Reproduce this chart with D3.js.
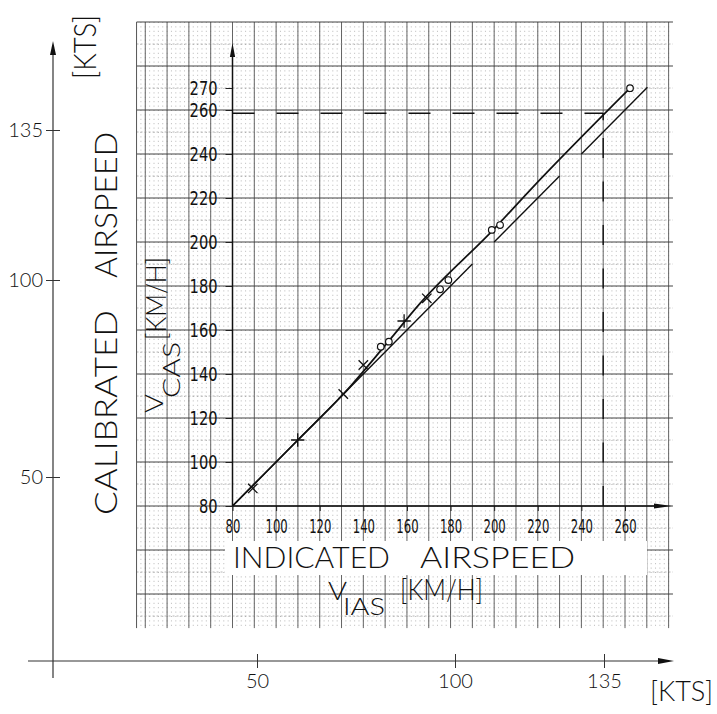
<!DOCTYPE html>
<html>
<head>
<meta charset="utf-8">
<script src="https://cdnjs.cloudflare.com/ajax/libs/d3/7.8.5/d3.min.js"></script>
<style>
  html, body { margin: 0; padding: 0; background: #fff; }
  svg { display: block; }
  .lbl { font-family: Lato, "Liberation Sans", sans-serif; font-weight: 300; fill: #111; }
  .num { font-family: "Liberation Sans Narrow", "DejaVu Sans Condensed", "Liberation Sans", sans-serif; fill: #111; }
</style>
</head>
<body>
<div id="chart"></div>
<script>
'use strict';

// Measured points, km/h (IAS, CAS). Crosses and circles are two test runs.
var crossIas  = [89.3, 109.9, 130.8, 140.0, 158.7, 169.1];
var crossCas  = [88.0, 110.0, 130.9, 144.1, 164.1, 174.4];
var crossKind = ['x', '+', 'x', 'x', '+', 'x'];
var circleIas = [148.0, 151.7, 175.2, 179.0, 198.9, 202.7, 262.3];
var circleCas = [152.4, 154.7, 178.5, 182.7, 205.5, 207.7, 269.9];

// Faired calibration curve through the readings.
var curveIas = [80, 110, 131, 150, 166, 200, 216.5, 262.3];
var curveCas = [80, 110, 131, 153, 172.1, 206, 223.6, 269.9];

// IAS = CAS reference line, drawn in broken pieces.
var refFrom = [80, 200, 240];
var refTo   = [190, 230, 270.3];

// Limit speed marking (IAS on the x axis, CAS on the y axis).
var limitIas = 250;
var limitCas = 258.5;

// Tick labels.
var kmhTicksX = [80, 100, 120, 140, 160, 180, 200, 220, 240, 260];
var kmhTicksY = [80, 100, 120, 140, 160, 180, 200, 220, 240, 260, 270];
var ktsTicks  = [50, 100, 135];

(function() {

  var width = 717, height = 714;

  var svg = d3.select('#chart').append('svg')
      .attr('width', width)
      .attr('height', height);

  // Inner (km/h) scales, same as the graph paper.
  var x = d3.scaleLinear().domain([80, 260]).range([232.5, 625]);
  var y = d3.scaleLinear().domain([80, 260]).range([506, 110]);

  // Outer knot scales were lettered by hand, so they are piecewise.
  var kx = d3.scaleLinear().domain(ktsTicks).range([257, 455, 604]);
  var ky = d3.scaleLinear().domain(ktsTicks).range([477, 280, 130]);

  // Extent of the graph paper, in km/h.
  var paper = {x0: 36, x1: 282, y0: 24.5, y1: 300};

  /**
   * Graph paper: dot rulings, 10 km/h lines, heavier 20 km/h rows.
   */
  function drawPaper() {
    var g = svg.append('g').attr('class', 'paper');
    var top = y(paper.y1), bottom = y(paper.y0);
    var left = x(paper.x0), right = x(paper.x1);

    // Dotted rulings give a dot matrix of about 2 km/h pitch.
    g.selectAll('.fine-v').data(d3.range(38, paper.x1, 2)).enter()
      .append('line')
        .attr('x1', x).attr('x2', x)
        .attr('y1', top).attr('y2', bottom)
        .attr('stroke', '#b0b0b0').attr('stroke-width', 0.9)
        .attr('stroke-dasharray', '1,3.4');

    g.selectAll('.mid-v').data(d3.range(40, paper.x1, 10)).enter()
      .append('line')
        .attr('x1', x).attr('x2', x)
        .attr('y1', top).attr('y2', bottom)
        .attr('stroke', '#555').attr('stroke-width', 0.9);

    g.selectAll('.mid-h').data(d3.range(30, paper.y1, 20)).enter()
      .append('line')
        .attr('y1', y).attr('y2', y)
        .attr('x1', left).attr('x2', right)
        .attr('stroke', '#999').attr('stroke-width', 0.7)
        .attr('stroke-dasharray', '2,2');

    g.selectAll('.major-h').data(d3.range(40, paper.y1 + 1, 20)).enter()
      .append('line')
        .attr('y1', y).attr('y2', y)
        .attr('x1', left).attr('x2', right)
        .attr('stroke', '#444').attr('stroke-width', 1.1);

    // Left edge of the sheet.
    g.append('line')
      .attr('x1', left).attr('x2', left)
      .attr('y1', top).attr('y2', bottom)
      .attr('stroke', '#555').attr('stroke-width', 1);

    // Pasted-on strip behind the x axis title.
    g.append('rect')
      .attr('x', 225).attr('y', 541)
      .attr('width', 422).attr('height', 34)
      .attr('fill', '#fff');
  }

  function arrow(tipX, tipY, dx, dy, len, half) {
    // Narrow filled arrow head pointing along (dx, dy).
    var bx = tipX - dx * len, by = tipY - dy * len;
    var px = -dy * half, py = dx * half;
    svg.append('path')
      .attr('d', 'M' + tipX + ',' + tipY +
                 'L' + (bx + px) + ',' + (by + py) +
                 'L' + (bx - px) + ',' + (by - py) + 'Z')
      .attr('fill', '#111');
  }

  function drawInnerAxes() {
    var xAxis = d3.axisBottom(x).tickValues(kmhTicksX).tickSize(5).tickPadding(8);
    var yAxis = d3.axisLeft(y).tickValues(kmhTicksY).tickSize(7).tickPadding(8);

    var gx = svg.append('g').attr('transform', 'translate(0,' + y(80) + ')').call(xAxis);
    var gy = svg.append('g').attr('transform', 'translate(' + x(80) + ',0)').call(yAxis);

    [gx, gy].forEach(function(g) {
      g.select('.domain').remove();
      g.selectAll('.tick line').attr('stroke', '#222').attr('stroke-width', 1);
      g.selectAll('.tick text')
        .attr('class', 'num')
        .attr('font-family', null)
        .style('font-size', '20px');
    });
    gx.selectAll('.tick text')
      .attr('textLength', function(d) { return String(d).length * 7.4; })
      .attr('lengthAdjust', 'spacingAndGlyphs');
    gy.selectAll('.tick text')
      .attr('textLength', function(d) { return String(d).length * 9.3; })
      .attr('lengthAdjust', 'spacingAndGlyphs');

    svg.append('line')
      .attr('x1', x(80)).attr('x2', 656)
      .attr('y1', y(80)).attr('y2', y(80))
      .attr('stroke', '#111').attr('stroke-width', 1.5);
    svg.append('line')
      .attr('x1', x(80)).attr('x2', x(80))
      .attr('y1', y(80)).attr('y2', 55)
      .attr('stroke', '#111').attr('stroke-width', 1.5);
    arrow(672, y(80), 1, 0, 18, 2.6);
    arrow(x(80), 43, 0, -1, 14, 2.6);
  }

  function drawOuterAxes() {
    var axisX = 53, axisY = 661;

    var gx = svg.append('g').attr('transform', 'translate(0,' + axisY + ')')
      .call(d3.axisBottom(kx).tickValues(ktsTicks).tickSize(7).tickPadding(6));
    var gy = svg.append('g').attr('transform', 'translate(' + axisX + ',0)')
      .call(d3.axisLeft(ky).tickValues(ktsTicks).tickSize(7).tickPadding(3));

    [gx, gy].forEach(function(g) {
      g.select('.domain').remove();
      g.selectAll('.tick text')
        .attr('class', 'lbl')
        .attr('font-family', null)
        .style('font-size', '20px');
    });
    // Ticks cross the axis on both sides.
    gx.selectAll('.tick line').attr('y1', -7).attr('y2', 7).attr('stroke', '#333');
    gy.selectAll('.tick line').attr('x1', -7).attr('x2', 7).attr('stroke', '#333');

    svg.append('line')
      .attr('x1', 28).attr('x2', 660)
      .attr('y1', axisY).attr('y2', axisY)
      .attr('stroke', '#333').attr('stroke-width', 1.2);
    svg.append('line')
      .attr('x1', axisX).attr('x2', axisX)
      .attr('y1', 678).attr('y2', 52)
      .attr('stroke', '#333').attr('stroke-width', 1.2);
    arrow(674, axisY, 1, 0, 16, 3);
    arrow(axisX, 41, 0, -1, 14, 3);
  }

  function drawLimit() {
    // Horizontal dashes from the CAS axis to the curve, then down to IAS.
    svg.append('line')
      .attr('x1', x(80)).attr('x2', x(limitIas))
      .attr('y1', y(limitCas)).attr('y2', y(limitCas))
      .attr('stroke', '#111').attr('stroke-width', 1.4)
      .attr('stroke-dasharray', '22,22');
    svg.append('line')
      .attr('x1', x(limitIas)).attr('x2', x(limitIas))
      .attr('y1', y(80)).attr('y2', y(limitCas))
      .attr('stroke', '#111').attr('stroke-width', 1.4)
      .attr('stroke-dasharray', '20,23.5');
    svg.append('line')
      .attr('x1', x(limitIas)).attr('x2', x(limitIas))
      .attr('y1', y(limitCas)).attr('y2', y(limitCas) + 7)
      .attr('stroke', '#111').attr('stroke-width', 1.4);
  }

  function drawData() {
    var line = d3.line()
      .x(function(d) { return x(d[0]); })
      .y(function(d) { return y(d[1]); });

    // IAS = CAS reference, broken.
    svg.selectAll('.ref').data(d3.zip(refFrom, refTo)).enter()
      .append('path')
        .attr('d', function(d) { return line([[d[0], d[0]], [d[1], d[1]]]); })
        .attr('fill', 'none').attr('stroke', '#111').attr('stroke-width', 1.4);

    // Calibration curve.
    svg.append('path')
      .attr('d', line.curve(d3.curveMonotoneX)(d3.zip(curveIas, curveCas)))
      .attr('fill', 'none').attr('stroke', '#111').attr('stroke-width', 1.7);

    svg.selectAll('.cross').data(d3.zip(crossIas, crossCas, crossKind)).enter()
      .append('path')
        .attr('transform', function(d) { return 'translate(' + x(d[0]) + ',' + y(d[1]) + ')'; })
        .attr('d', function(d) {
          return d3.symbol(d[2] === '+' ? d3.symbolPlus : d3.symbolTimes, 60)();
        })
        .attr('fill', 'none').attr('stroke', '#111').attr('stroke-width', 1.3);

    svg.selectAll('.circle').data(d3.zip(circleIas, circleCas)).enter()
      .append('circle')
        .attr('cx', function(d) { return x(d[0]); })
        .attr('cy', function(d) { return y(d[1]); })
        .attr('r', 3.3)
        .attr('fill', '#fff').attr('stroke', '#111').attr('stroke-width', 1.2);
  }

  /**
   * Text placed on the sheet, optionally turned to read upwards.
   */
  function label(str, px, py, size, len, upright) {
    var t = svg.append('text')
      .attr('class', 'lbl')
      .style('font-size', size + 'px')
      .text(str);
    if (len) t.attr('textLength', len).attr('lengthAdjust', 'spacingAndGlyphs');
    if (upright) {
      t.attr('transform', 'translate(' + px + ',' + py + ') rotate(-90)');
    } else {
      t.attr('x', px).attr('y', py);
    }
    return t;
  }

  function drawLabels() {
    label('CALIBRATED', 117, 515, 32, 205, true);
    label('AIRSPEED', 117, 278, 32, 146, true);
    label('[KTS]', 96, 79, 32, 64, true);

    label('V', 163, 413, 26, 19, true);
    label('CAS', 180, 398, 24, 56, true);
    label('[KM/H]', 166, 340, 27, 83, true);

    label('INDICATED', 233, 568, 30, 157, false);
    label('AIRSPEED', 420, 568, 30, 155, false);
    label('V', 328, 600, 26, 19, false);
    label('IAS', 343, 615, 23, 42, false);
    label('[KM/H]', 400, 600, 29, 83, false);

    label('[KTS]', 650, 701, 28, 63, false);
  }

  drawPaper();
  drawLimit();
  drawData();
  drawInnerAxes();
  drawOuterAxes();
  drawLabels();

}());
</script>
</body>
</html>
